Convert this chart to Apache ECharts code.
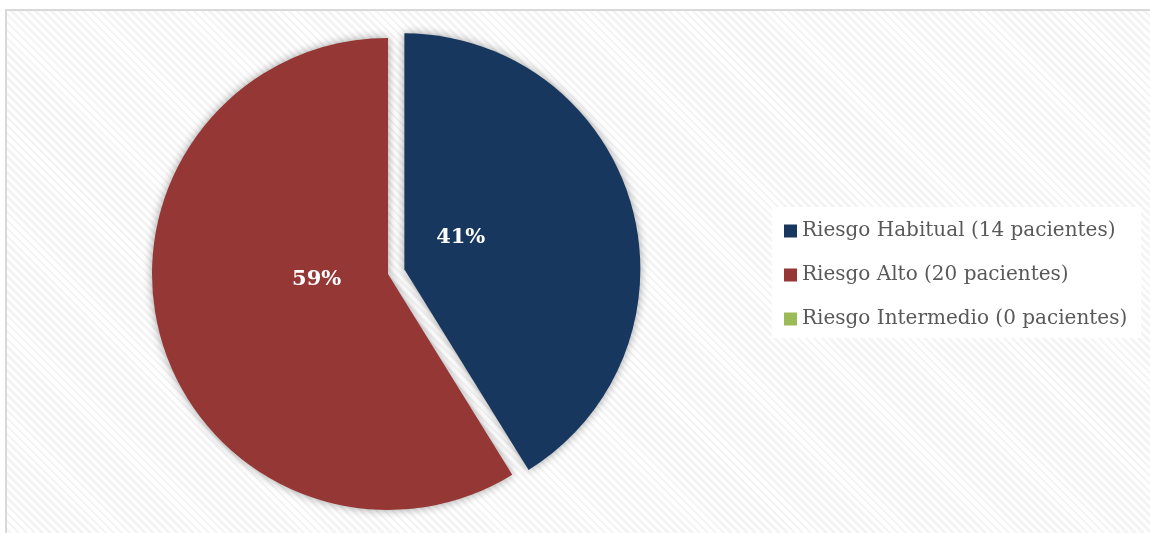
<!DOCTYPE html>
<html>
<head>
<meta charset="utf-8">
<script src="https://cdn.jsdelivr.net/npm/echarts@6/dist/echarts.min.js"></script>
<style>
  html, body { margin: 0; padding: 0; background: #ffffff; overflow: hidden; }
  #frame {
    position: absolute; left: 5px; top: 9px; width: 1145px; height: 524px;
    border-left: 2px solid #d9d9d9; border-top: 2px solid #d9d9d9;
    background: repeating-linear-gradient(45deg, #ffffff 0 3px, #f4f4f4 3px 5.6px);
  }
  #chart { position: absolute; left: 0; top: 0; width: 1150px; height: 533px; }
</style>
</head>
<body>
<div id="frame"></div>
<div id="chart"></div>
<script>
// Patient risk groups and counts
const categories = ['Riesgo Habitual', 'Riesgo Alto', 'Riesgo Intermedio'];
const patientCounts = [14, 20, 0];
const sliceColors = ['#17375e', '#953735', '#9bbb59'];

// Label nudges (px) per slice, applied after the default inside placement
const labelNudge = [[-60, 1], [45, -28], [0, 0]];

const pieData = categories.map((name, i) => ({
  name: name + ' (' + patientCounts[i] + ' pacientes)',
  value: patientCounts[i],
  selected: i === 0,
  itemStyle: { color: sliceColors[i] }
}));

const chart = echarts.init(document.getElementById('chart'), null, { renderer: 'canvas' });
chart.setOption({
  backgroundColor: 'transparent',
  animation: false,
  legend: {
    orient: 'vertical',
    left: 772,
    top: 207,
    backgroundColor: '#ffffff',
    padding: [13, 14, 8, 12],
    icon: 'rect',
    itemWidth: 13,
    itemHeight: 13,
    itemGap: 22,
    selectedMode: false,
    textStyle: {
      fontFamily: 'DejaVu Serif',
      fontSize: 20,
      lineHeight: 22,
      color: '#595959'
    },
    data: pieData.map(d => d.name)
  },
  series: [{
    type: 'pie',
    center: [388, 274],
    radius: 236,
    startAngle: 90,
    clockwise: true,
    selectedMode: 'single',
    selectedOffset: 17,
    avoidLabelOverlap: false,
    itemStyle: {
      shadowBlur: 10,
      shadowColor: 'rgba(0,0,0,0.38)',
      shadowOffsetX: 0,
      shadowOffsetY: 0
    },
    emphasis: { disabled: true },
    label: {
      show: true,
      position: 'inside',
      fontFamily: 'DejaVu Serif',
      fontWeight: 'bold',
      fontSize: 21,
      color: '#ffffff',
      formatter: p => (p.value > 0 ? Math.round(p.percent) + '%' : '')
    },
    labelLine: { show: false },
    labelLayout: p => ({ dx: labelNudge[p.dataIndex][0], dy: labelNudge[p.dataIndex][1] }),
    data: pieData
  }]
});
</script>
</body>
</html>
